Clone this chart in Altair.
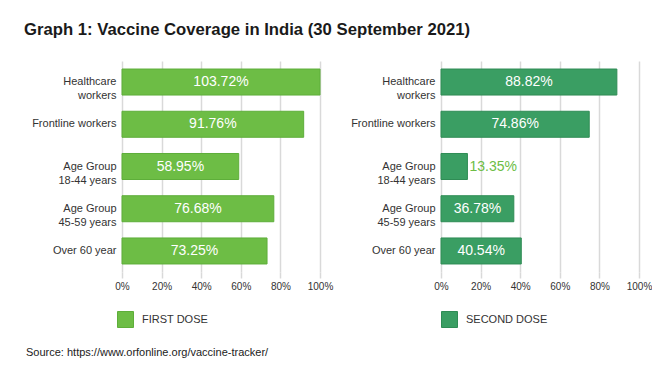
import altair as alt
import pandas as pd

categories = ["Healthcare|workers", "Frontline workers", "Age Group|18-44 years",
              "Age Group|45-59 years", "Over 60 year"]
first_dose = [103.72, 91.76, 58.95, 76.68, 73.25]
second_dose = [88.82, 74.86, 13.35, 36.78, 40.54]
doses = ["FIRST DOSE", "SECOND DOSE"]
x_ticks = [0, 20, 40, 60, 80, 100]

FONT = "Liberation Sans"
GRID = "#d9d9d9"
TXT = "#333333"


def panel(values, dose, fill, stroke, legend_x):
    df = pd.DataFrame({"cat": categories, "value": values, "dose": dose})
    y = alt.Y("cat:N", sort=categories, title=None,
              scale=alt.Scale(paddingInner=0.384, paddingOuter=0.19),
              axis=alt.Axis(labelExpr="split(datum.label, '|')", ticks=False, domain=False,
                            labelPadding=6, labelFontSize=11, labelLineHeight=14,
                            labelColor=TXT, labelFont=FONT, labelLimit=200,
                            minExtent=100, maxExtent=100, grid=False))
    xscale = alt.Scale(domain=[0, 100], clamp=True, nice=False)
    xaxis = alt.Axis(values=x_ticks, labelExpr="datum.value + '%'",
                     labelOverlap=False, labelFlush=False,
                     domain=False, tickColor=GRID, tickSize=6, tickWidth=1.5,
                     grid=True, gridColor=GRID, gridWidth=1.5,
                     labelFontSize=10, labelColor=TXT, labelFont=FONT,
                     labelPadding=3)
    base = alt.Chart(df).encode(y=y)
    bars = base.mark_bar(stroke=stroke, strokeWidth=1).encode(
        x=alt.X("value:Q", scale=xscale, title=None, axis=xaxis),
        color=alt.Color("dose:N", scale=alt.Scale(domain=[dose], range=[fill]),
                        legend=alt.Legend(orient="none", legendX=legend_x, legendY=250,
                                          title=None, symbolType="square", symbolSize=256,
                                          symbolStrokeColor=stroke, symbolStrokeWidth=1,
                                          labelFontSize=11, labelColor=TXT, labelFont=FONT,
                                          labelOffset=8, padding=0)),
    )
    inside = base.transform_filter("datum.value >= 20").transform_calculate(
        mid="min(datum.value, 100) / 2",
        lbl="format(datum.value, '.2f') + '%'",
    ).mark_text(color="white", fontSize=14, font=FONT, align="center", baseline="middle").encode(
        x=alt.X("mid:Q", scale=xscale, title=None, axis=xaxis), text="lbl:N",
    )
    outside = base.transform_filter("datum.value < 20").transform_calculate(
        lbl="format(datum.value, '.2f') + '%'"
    ).mark_text(color="#6dbd45", fontSize=14, font=FONT, align="left", baseline="middle", dx=2).encode(
        x=alt.X("value:Q", scale=xscale, title=None, axis=xaxis), text="lbl:N",
    )
    return alt.layer(bars, inside, outside).properties(width=198, height=211)


left = panel(first_dose, doses[0], "#6dbd45", "#5eae3a", -5)
right = panel(second_dose, doses[1], "#3a9e63", "#2f8c55", 0)

inner = alt.hconcat(left, right, spacing=121, bounds="flush").resolve_scale(
    color="independent"
).properties(
    title=alt.TitleParams("Source: https://www.orfonline.org/vaccine-tracker/", orient="bottom",
                          anchor="start", fontSize=11, fontWeight="normal", font=FONT,
                          color="#222222", offset=17, dx=4)
)

chart = alt.vconcat(inner).properties(
    title=alt.TitleParams("Graph 1: Vaccine Coverage in India (30 September 2021)", anchor="start",
                          fontSize=16.7, fontWeight="bold", font=FONT, color="#1a1a1a",
                          offset=22, dx=2),
    padding={"left": 14, "top": 14, "right": 0, "bottom": 5},
    background="white",
).configure_view(stroke=None)

chart.save("out.html", embed_options={"renderer": "svg", "actions": False})
